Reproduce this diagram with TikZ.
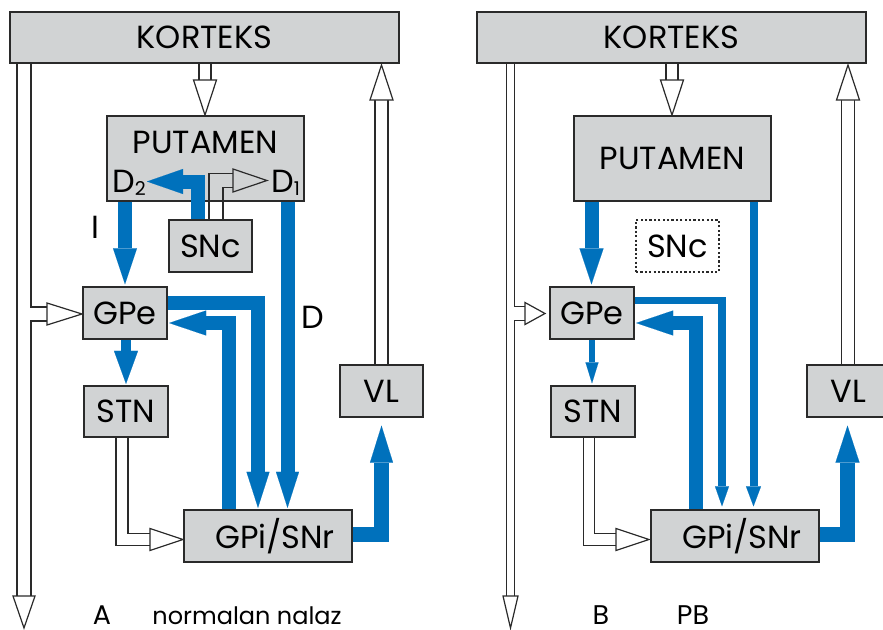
\documentclass[tikz,border=0pt]{standalone}
\usepackage{fontspec}
\setmainfont{Poppins}
\usetikzlibrary{arrows.meta,calc}
\definecolor{boxgray}{HTML}{D1D3D4}
\definecolor{nblue}{HTML}{0071BC}
\definecolor{edge}{HTML}{2A2A2A}
\begin{document}
\begin{tikzpicture}[x=1pt,y=-1pt,
  box/.style={draw=edge, line width=1.3pt, fill=boxgray, inner sep=0pt, font=\fontsize{32}{32}\selectfont},
  dbox/.style={draw=edge, line width=1.2pt, dash pattern=on 2.2pt off 2.2pt, fill=white, inner sep=0pt, font=\fontsize{32}{32}\selectfont},
  txt/.style={inner sep=0pt, font=\fontsize{32}{32}\selectfont},
  lab/.style={inner sep=0pt, font=\fontsize{24}{24}\selectfont},
  labb/.style={inner sep=0pt, font=\fontsize{27}{27}\selectfont},
  hblk/.style={draw=edge, line width=#1, line join=miter, line cap=butt},
  hwht/.style={draw=white, line width=#1, line join=miter, line cap=butt},
  hgry/.style={draw=boxgray, line width=#1, line join=miter, line cap=butt},
  blu/.style={draw=nblue, line width=#1, line join=miter, line cap=butt},
  bigtip/.style={-{Triangle[length=36pt,width=24pt,line width=0.1pt]}},
  smalltip/.style={-{Triangle[length=20pt,width=15pt,line width=0.1pt]}},
  pics/hhead/.style n args={3}{code={\draw[draw=edge, line width=1.2pt, line join=miter, fill=#3] (0,-#1) -- (#2,0) -- (0,#1) -- cycle;}}
]
\useasboundingbox (0,0) rectangle (883,629);
\clip (0,0) rectangle (883,629);
\fill[white] (0,0) rectangle (883,629);

% ================= PANEL A =================
\node[box, minimum width=389pt, minimum height=51pt] (ka) at (204.5,37.5) {KORTEKS};
\node[box, minimum width=197pt, minimum height=85pt] (pa) at (205.5,158.5) {};
\node[txt] (pat) at (205.5,142.5) {PUTAMEN};
\node[box, minimum width=83pt, minimum height=52pt] (sa) at (210.5,246) {SNc};
\node[box, minimum width=84pt, minimum height=52pt] (ga) at (125,313) {GPe};
\node[box, minimum width=84pt, minimum height=51pt] (ta) at (126,411.5) {STN};
\node[box, minimum width=168pt, minimum height=52pt] (ia) at (268,536) {\hspace*{14pt}GPi/SNr};
\node[box, minimum width=83pt, minimum height=52pt] (va) at (381.5,391) {VL};
\node[txt, anchor=east] (d2a) at (146,183) {D\raisebox{-2.5pt}{\fontsize{19}{19}\selectfont 2}};
\node[txt, anchor=west] (d1a) at (271,183) {D\raisebox{-2.5pt}{\fontsize{19}{19}\selectfont 1}};
\node[txt] (lia) at (95,227) {I};
\node[txt] (lda) at (313,317) {D};
\node[labb, anchor=base] (lA) at (102,624) {A};
\node[lab, anchor=base] (nA) at (247,624) {normalan nalaz};

% hollow connectors A
\coordinate (xa1) at (205,80);
\coordinate (xa2) at (381.5,100);
\coordinate (xa3) at (24,596);
\coordinate (xa3b) at (24,314);
\coordinate (xa3c) at (47,314);
\coordinate (xa4) at (122,539.5);
\coordinate (xa4c) at (150,539.5);
\coordinate (xa5) at (216,180.5);
\coordinate (xa5c) at (233,180.5);
\coordinate (xa5d) at (216,200.35);
\coordinate (xa5e) at (216,201.65);
% black pass
\draw[hblk=13.2pt] (ka.south -| xa1) -- (xa1);
\draw[hblk=14.2pt] (va.north) -- (xa2);
\draw[hblk=15.2pt] (ka.south -| xa3) -- (xa3);
\draw[hblk=15.2pt] (xa3b) -- (xa3c);
\draw[hblk=13.2pt] (ta.south -| xa4) -- (xa4) -- (xa4c);
\draw[hblk=15.2pt] (sa.north -| xa5) -- (xa5) -- (xa5c);
% white pass
\draw[hwht=10.8pt, shorten <=0.7pt] (ka.south -| xa1) -- (xa1);
\draw[hwht=11.8pt, shorten <=0.7pt] (va.north) -- (xa2);
\draw[hwht=12.8pt, shorten <=0.7pt] (ka.south -| xa3) -- (xa3);
\draw[hwht=12.8pt] (xa3b) -- (xa3c);
\draw[hwht=10.8pt, shorten <=0.7pt] (ta.south -| xa4) -- (xa4) -- (xa4c);
\draw[hwht=12.8pt, shorten <=0.7pt] (sa.north -| xa5) -- (xa5e);
\draw[hgry=12.8pt] (xa5d) -- (xa5) -- (xa5c);
% heads
\pic[rotate=-90] at (xa1) {hhead={11.5}{35}{white}};
\pic[rotate=90] at (xa2) {hhead={11.5}{35}{white}};
\pic[rotate=-90] at (xa3) {hhead={11}{32}{white}};
\pic at (xa3c) {hhead={11}{35}{white}};
\pic at (xa4c) {hhead={11}{33}{white}};
\pic at (xa5c) {hhead={11.5}{34}{boxgray}};

% blue connectors A
\coordinate (ba1) at (125,0);
\coordinate (ba2) at (287.5,0);
\coordinate (ba3) at (258,303);
\coordinate (ba4) at (229,323);
\coordinate (ba5) at (126,0);
\coordinate (ba6) at (381.5,534.5);
\coordinate (ba7) at (198,181.5);
\draw[blu=14pt, bigtip, shorten >=2pt] (pa.south -| ba1) -- (ga.north -| ba1);
\draw[blu=14pt, -{Triangle[length=36pt,width=23pt,line width=0.1pt]}, shorten >=1.5pt] (pa.south -| ba2) -- (ia.north -| ba2);
\draw[blu=14pt, -{Triangle[length=36pt,width=23pt,line width=0.1pt]}, shorten >=1.5pt] (ga.east |- ba3) -- (ba3) -- (ia.north -| ba3);
\draw[blu=14pt, -{Triangle[length=37pt,width=25pt,line width=0.1pt]}, shorten >=1.5pt] (ia.north -| ba4) -- (ba4) -- (ga.east |- ba4);
\draw[blu=10pt, -{Triangle[length=33pt,width=24pt,line width=0.1pt]}, shorten >=1.5pt] (ga.south -| ba5) -- (ta.north -| ba5);
\draw[blu=15pt, -{Triangle[length=37pt,width=23pt,line width=0.1pt]}, shorten >=8pt] (ia.east |- ba6) -- (ba6) -- (va.south -| ba6);
\draw[blu=14pt, -{Triangle[length=36pt,width=25pt,line width=0.1pt]}, shorten >=1pt] (sa.north -| ba7) -- (ba7) -- (d2a.east |- ba7);

% ================= PANEL B =================
\node[box, minimum width=389pt, minimum height=51pt] (kb) at (671.5,37.5) {KORTEKS};
\node[box, minimum width=197pt, minimum height=85pt] (pb) at (672.5,158.5) {PUTAMEN};
\node[dbox, minimum width=83pt, minimum height=52pt] (sb) at (677.5,246) {SNc};
\node[box, minimum width=84pt, minimum height=52pt] (gb) at (592,313) {GPe};
\node[box, minimum width=84pt, minimum height=51pt] (tb) at (593,411.5) {STN};
\node[box, minimum width=168pt, minimum height=52pt] (ib) at (735,536) {\hspace*{14pt}GPi/SNr};
\node[box, minimum width=83pt, minimum height=52pt] (vb) at (848.5,391) {VL};
\node[labb, anchor=base] (lB) at (601,624) {B};
\node[labb, anchor=base] (nB) at (693,624) {PB};

% hollow connectors B
\coordinate (xb1) at (672,80);
\coordinate (xb2) at (848,100);
\coordinate (xb3) at (510.5,596);
\coordinate (xb3b) at (510.5,313.5);
\coordinate (xb3c) at (525,313.5);
\coordinate (xb4) at (589,539.5);
\coordinate (xb4c) at (616,539.5);
\draw[hblk=13.2pt] (kb.south -| xb1) -- (xb1);
\draw[hblk=14.2pt] (vb.north -| xb2) -- (xb2);
\draw[hblk=8.7pt] (kb.south -| xb3) -- (xb3);
\draw[hblk=15.2pt] (xb3b) -- (xb3c);
\draw[hblk=12.7pt] (tb.south -| xb4) -- (xb4) -- (xb4c);
\draw[hwht=10.8pt, shorten <=0.7pt] (kb.south -| xb1) -- (xb1);
\draw[hwht=11.8pt, shorten <=0.7pt] (vb.north -| xb2) -- (xb2);
\draw[hwht=6.3pt, shorten <=0.7pt] (kb.south -| xb3) -- (xb3);
\draw[hwht=12.8pt] (xb3b) -- (xb3c);
\draw[hwht=10.3pt, shorten <=0.7pt] (tb.south -| xb4) -- (xb4) -- (xb4c);
\pic[rotate=-90] at (xb1) {hhead={11.5}{35}{white}};
\pic[rotate=90] at (xb2) {hhead={11.5}{35}{white}};
\pic[rotate=-90] at (xb3) {hhead={7.5}{32}{white}};
\pic at (xb3c) {hhead={11}{20}{white}};
\pic at (xb4c) {hhead={11}{33}{white}};

% blue connectors B
\coordinate (bb1) at (591.5,0);
\coordinate (bb2) at (753.5,0);
\coordinate (bb3) at (722,300.5);
\coordinate (bb4) at (695.5,323);
\coordinate (bb5) at (592,0);
\coordinate (bb6) at (847.5,534.5);
\draw[blu=14pt, bigtip, shorten >=2pt] (pb.south -| bb1) -- (gb.north -| bb1);
\draw[blu=8pt, smalltip, shorten >=3pt] (pb.south -| bb2) -- (ib.north -| bb2);
\draw[blu=7.5pt, -{Triangle[length=20pt,width=14pt,line width=0.1pt]}, shorten >=3pt] (gb.east |- bb3) -- (bb3) -- (ib.north -| bb3);
\draw[blu=14pt, -{Triangle[length=37pt,width=25pt,line width=0.1pt]}, shorten >=1.5pt] (ib.north -| bb4) -- (bb4) -- (gb.east |- bb4);
\draw[blu=6pt, -{Triangle[length=21pt,width=13pt,line width=0.1pt]}, shorten >=2pt] (gb.south -| bb5) -- (tb.north -| bb5);
\draw[blu=15pt, -{Triangle[length=37pt,width=24pt,line width=0.1pt]}, shorten >=8pt] (ib.east |- bb6) -- (bb6) -- (vb.south -| bb6);
\end{tikzpicture}
\end{document}
